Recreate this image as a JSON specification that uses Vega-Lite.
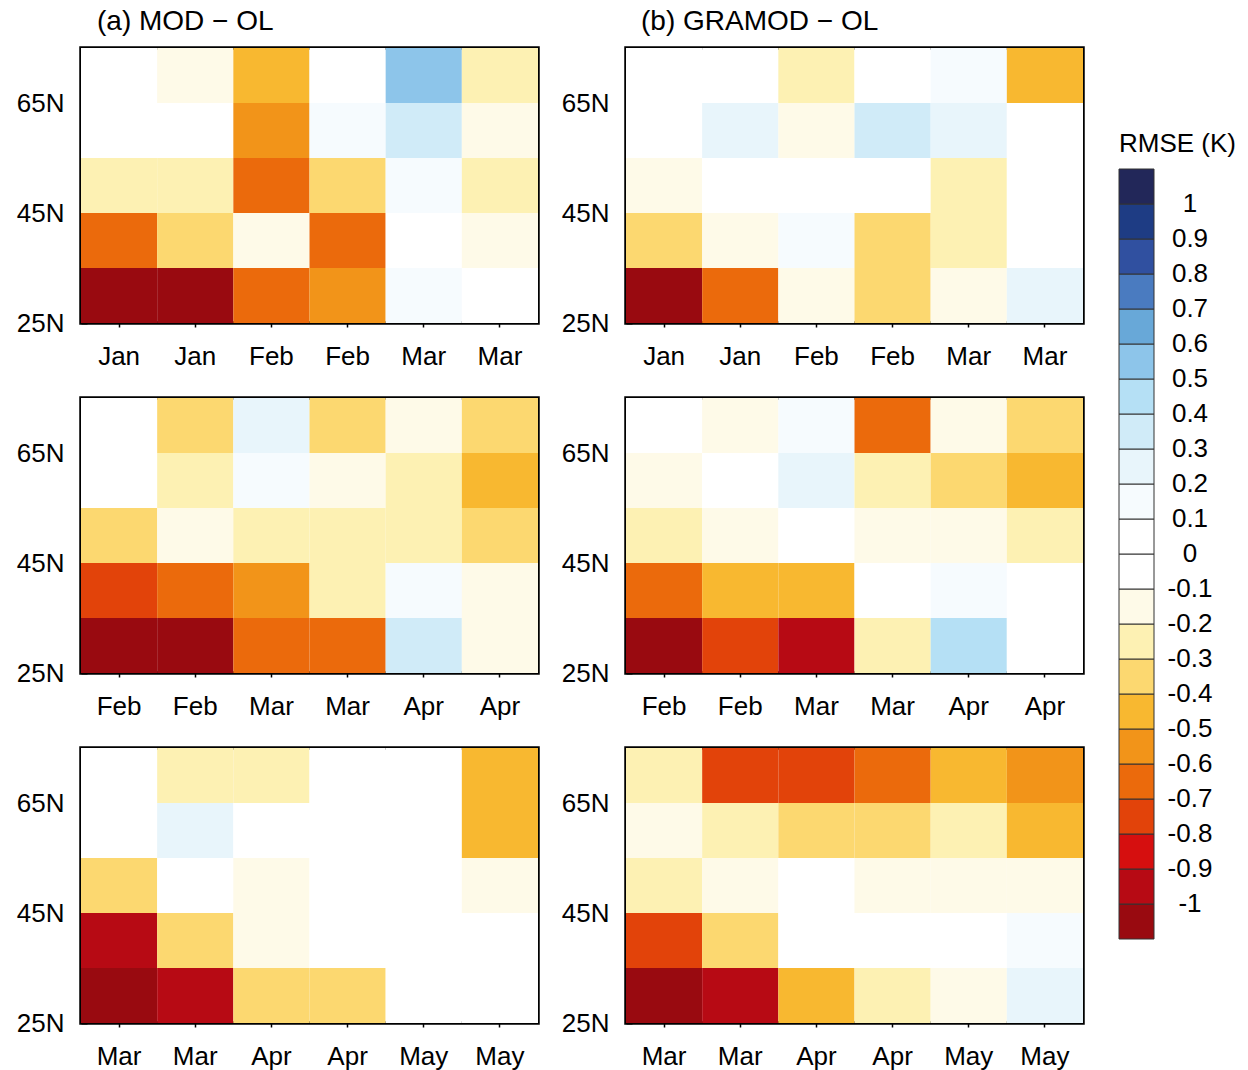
{
  "$schema": "https://vega.github.io/schema/vega-lite/v6.json",
  "background": "white",
  "padding": {"left": 14, "top": 6, "right": 5, "bottom": 5},
  "data": {"values": [
    {"p":"a1","c":"1 Jan","lat":65,"lat2":75,"v":0},{"p":"a1","c":"2 Jan","lat":65,"lat2":75,"v":-0.15},{"p":"a1","c":"3 Feb","lat":65,"lat2":75,"v":-0.45},{"p":"a1","c":"4 Feb","lat":65,"lat2":75,"v":0},{"p":"a1","c":"5 Mar","lat":65,"lat2":75,"v":0.55},{"p":"a1","c":"6 Mar","lat":65,"lat2":75,"v":-0.25},
    {"p":"a1","c":"1 Jan","lat":55,"lat2":65,"v":0},{"p":"a1","c":"2 Jan","lat":55,"lat2":65,"v":0},{"p":"a1","c":"3 Feb","lat":55,"lat2":65,"v":-0.55},{"p":"a1","c":"4 Feb","lat":55,"lat2":65,"v":0.15},{"p":"a1","c":"5 Mar","lat":55,"lat2":65,"v":0.35},{"p":"a1","c":"6 Mar","lat":55,"lat2":65,"v":-0.15},
    {"p":"a1","c":"1 Jan","lat":45,"lat2":55,"v":-0.25},{"p":"a1","c":"2 Jan","lat":45,"lat2":55,"v":-0.25},{"p":"a1","c":"3 Feb","lat":45,"lat2":55,"v":-0.65},{"p":"a1","c":"4 Feb","lat":45,"lat2":55,"v":-0.35},{"p":"a1","c":"5 Mar","lat":45,"lat2":55,"v":0.15},{"p":"a1","c":"6 Mar","lat":45,"lat2":55,"v":-0.25},
    {"p":"a1","c":"1 Jan","lat":35,"lat2":45,"v":-0.65},{"p":"a1","c":"2 Jan","lat":35,"lat2":45,"v":-0.35},{"p":"a1","c":"3 Feb","lat":35,"lat2":45,"v":-0.15},{"p":"a1","c":"4 Feb","lat":35,"lat2":45,"v":-0.65},{"p":"a1","c":"5 Mar","lat":35,"lat2":45,"v":0},{"p":"a1","c":"6 Mar","lat":35,"lat2":45,"v":-0.15},
    {"p":"a1","c":"1 Jan","lat":25,"lat2":35,"v":-1.05},{"p":"a1","c":"2 Jan","lat":25,"lat2":35,"v":-1.05},{"p":"a1","c":"3 Feb","lat":25,"lat2":35,"v":-0.65},{"p":"a1","c":"4 Feb","lat":25,"lat2":35,"v":-0.55},{"p":"a1","c":"5 Mar","lat":25,"lat2":35,"v":0.15},{"p":"a1","c":"6 Mar","lat":25,"lat2":35,"v":0},

    {"p":"b1","c":"1 Jan","lat":65,"lat2":75,"v":0},{"p":"b1","c":"2 Jan","lat":65,"lat2":75,"v":0},{"p":"b1","c":"3 Feb","lat":65,"lat2":75,"v":-0.25},{"p":"b1","c":"4 Feb","lat":65,"lat2":75,"v":0},{"p":"b1","c":"5 Mar","lat":65,"lat2":75,"v":0.15},{"p":"b1","c":"6 Mar","lat":65,"lat2":75,"v":-0.45},
    {"p":"b1","c":"1 Jan","lat":55,"lat2":65,"v":0},{"p":"b1","c":"2 Jan","lat":55,"lat2":65,"v":0.25},{"p":"b1","c":"3 Feb","lat":55,"lat2":65,"v":-0.15},{"p":"b1","c":"4 Feb","lat":55,"lat2":65,"v":0.35},{"p":"b1","c":"5 Mar","lat":55,"lat2":65,"v":0.25},{"p":"b1","c":"6 Mar","lat":55,"lat2":65,"v":0},
    {"p":"b1","c":"1 Jan","lat":45,"lat2":55,"v":-0.15},{"p":"b1","c":"2 Jan","lat":45,"lat2":55,"v":0},{"p":"b1","c":"3 Feb","lat":45,"lat2":55,"v":0},{"p":"b1","c":"4 Feb","lat":45,"lat2":55,"v":0},{"p":"b1","c":"5 Mar","lat":45,"lat2":55,"v":-0.25},{"p":"b1","c":"6 Mar","lat":45,"lat2":55,"v":0},
    {"p":"b1","c":"1 Jan","lat":35,"lat2":45,"v":-0.35},{"p":"b1","c":"2 Jan","lat":35,"lat2":45,"v":-0.15},{"p":"b1","c":"3 Feb","lat":35,"lat2":45,"v":0.15},{"p":"b1","c":"4 Feb","lat":35,"lat2":45,"v":-0.35},{"p":"b1","c":"5 Mar","lat":35,"lat2":45,"v":-0.25},{"p":"b1","c":"6 Mar","lat":35,"lat2":45,"v":0},
    {"p":"b1","c":"1 Jan","lat":25,"lat2":35,"v":-1.05},{"p":"b1","c":"2 Jan","lat":25,"lat2":35,"v":-0.65},{"p":"b1","c":"3 Feb","lat":25,"lat2":35,"v":-0.15},{"p":"b1","c":"4 Feb","lat":25,"lat2":35,"v":-0.35},{"p":"b1","c":"5 Mar","lat":25,"lat2":35,"v":-0.15},{"p":"b1","c":"6 Mar","lat":25,"lat2":35,"v":0.25},

    {"p":"a2","c":"1 Feb","lat":65,"lat2":75,"v":0},{"p":"a2","c":"2 Feb","lat":65,"lat2":75,"v":-0.35},{"p":"a2","c":"3 Mar","lat":65,"lat2":75,"v":0.25},{"p":"a2","c":"4 Mar","lat":65,"lat2":75,"v":-0.35},{"p":"a2","c":"5 Apr","lat":65,"lat2":75,"v":-0.15},{"p":"a2","c":"6 Apr","lat":65,"lat2":75,"v":-0.35},
    {"p":"a2","c":"1 Feb","lat":55,"lat2":65,"v":0},{"p":"a2","c":"2 Feb","lat":55,"lat2":65,"v":-0.25},{"p":"a2","c":"3 Mar","lat":55,"lat2":65,"v":0.15},{"p":"a2","c":"4 Mar","lat":55,"lat2":65,"v":-0.15},{"p":"a2","c":"5 Apr","lat":55,"lat2":65,"v":-0.25},{"p":"a2","c":"6 Apr","lat":55,"lat2":65,"v":-0.45},
    {"p":"a2","c":"1 Feb","lat":45,"lat2":55,"v":-0.35},{"p":"a2","c":"2 Feb","lat":45,"lat2":55,"v":-0.15},{"p":"a2","c":"3 Mar","lat":45,"lat2":55,"v":-0.25},{"p":"a2","c":"4 Mar","lat":45,"lat2":55,"v":-0.25},{"p":"a2","c":"5 Apr","lat":45,"lat2":55,"v":-0.25},{"p":"a2","c":"6 Apr","lat":45,"lat2":55,"v":-0.35},
    {"p":"a2","c":"1 Feb","lat":35,"lat2":45,"v":-0.75},{"p":"a2","c":"2 Feb","lat":35,"lat2":45,"v":-0.65},{"p":"a2","c":"3 Mar","lat":35,"lat2":45,"v":-0.55},{"p":"a2","c":"4 Mar","lat":35,"lat2":45,"v":-0.25},{"p":"a2","c":"5 Apr","lat":35,"lat2":45,"v":0.15},{"p":"a2","c":"6 Apr","lat":35,"lat2":45,"v":-0.15},
    {"p":"a2","c":"1 Feb","lat":25,"lat2":35,"v":-1.05},{"p":"a2","c":"2 Feb","lat":25,"lat2":35,"v":-1.05},{"p":"a2","c":"3 Mar","lat":25,"lat2":35,"v":-0.65},{"p":"a2","c":"4 Mar","lat":25,"lat2":35,"v":-0.65},{"p":"a2","c":"5 Apr","lat":25,"lat2":35,"v":0.35},{"p":"a2","c":"6 Apr","lat":25,"lat2":35,"v":-0.15},

    {"p":"b2","c":"1 Feb","lat":65,"lat2":75,"v":0},{"p":"b2","c":"2 Feb","lat":65,"lat2":75,"v":-0.15},{"p":"b2","c":"3 Mar","lat":65,"lat2":75,"v":0.15},{"p":"b2","c":"4 Mar","lat":65,"lat2":75,"v":-0.65},{"p":"b2","c":"5 Apr","lat":65,"lat2":75,"v":-0.15},{"p":"b2","c":"6 Apr","lat":65,"lat2":75,"v":-0.35},
    {"p":"b2","c":"1 Feb","lat":55,"lat2":65,"v":-0.15},{"p":"b2","c":"2 Feb","lat":55,"lat2":65,"v":0},{"p":"b2","c":"3 Mar","lat":55,"lat2":65,"v":0.25},{"p":"b2","c":"4 Mar","lat":55,"lat2":65,"v":-0.25},{"p":"b2","c":"5 Apr","lat":55,"lat2":65,"v":-0.35},{"p":"b2","c":"6 Apr","lat":55,"lat2":65,"v":-0.45},
    {"p":"b2","c":"1 Feb","lat":45,"lat2":55,"v":-0.25},{"p":"b2","c":"2 Feb","lat":45,"lat2":55,"v":-0.15},{"p":"b2","c":"3 Mar","lat":45,"lat2":55,"v":0},{"p":"b2","c":"4 Mar","lat":45,"lat2":55,"v":-0.15},{"p":"b2","c":"5 Apr","lat":45,"lat2":55,"v":-0.15},{"p":"b2","c":"6 Apr","lat":45,"lat2":55,"v":-0.25},
    {"p":"b2","c":"1 Feb","lat":35,"lat2":45,"v":-0.65},{"p":"b2","c":"2 Feb","lat":35,"lat2":45,"v":-0.45},{"p":"b2","c":"3 Mar","lat":35,"lat2":45,"v":-0.45},{"p":"b2","c":"4 Mar","lat":35,"lat2":45,"v":0},{"p":"b2","c":"5 Apr","lat":35,"lat2":45,"v":0.15},{"p":"b2","c":"6 Apr","lat":35,"lat2":45,"v":0},
    {"p":"b2","c":"1 Feb","lat":25,"lat2":35,"v":-1.05},{"p":"b2","c":"2 Feb","lat":25,"lat2":35,"v":-0.75},{"p":"b2","c":"3 Mar","lat":25,"lat2":35,"v":-0.95},{"p":"b2","c":"4 Mar","lat":25,"lat2":35,"v":-0.25},{"p":"b2","c":"5 Apr","lat":25,"lat2":35,"v":0.45},{"p":"b2","c":"6 Apr","lat":25,"lat2":35,"v":0},

    {"p":"a3","c":"1 Mar","lat":65,"lat2":75,"v":0},{"p":"a3","c":"2 Mar","lat":65,"lat2":75,"v":-0.25},{"p":"a3","c":"3 Apr","lat":65,"lat2":75,"v":-0.25},{"p":"a3","c":"4 Apr","lat":65,"lat2":75,"v":0},{"p":"a3","c":"5 May","lat":65,"lat2":75,"v":0},{"p":"a3","c":"6 May","lat":65,"lat2":75,"v":-0.45},
    {"p":"a3","c":"1 Mar","lat":55,"lat2":65,"v":0},{"p":"a3","c":"2 Mar","lat":55,"lat2":65,"v":0.25},{"p":"a3","c":"3 Apr","lat":55,"lat2":65,"v":0},{"p":"a3","c":"4 Apr","lat":55,"lat2":65,"v":0},{"p":"a3","c":"5 May","lat":55,"lat2":65,"v":0},{"p":"a3","c":"6 May","lat":55,"lat2":65,"v":-0.45},
    {"p":"a3","c":"1 Mar","lat":45,"lat2":55,"v":-0.35},{"p":"a3","c":"2 Mar","lat":45,"lat2":55,"v":0},{"p":"a3","c":"3 Apr","lat":45,"lat2":55,"v":-0.15},{"p":"a3","c":"4 Apr","lat":45,"lat2":55,"v":0},{"p":"a3","c":"5 May","lat":45,"lat2":55,"v":0},{"p":"a3","c":"6 May","lat":45,"lat2":55,"v":-0.15},
    {"p":"a3","c":"1 Mar","lat":35,"lat2":45,"v":-0.95},{"p":"a3","c":"2 Mar","lat":35,"lat2":45,"v":-0.35},{"p":"a3","c":"3 Apr","lat":35,"lat2":45,"v":-0.15},{"p":"a3","c":"4 Apr","lat":35,"lat2":45,"v":0},{"p":"a3","c":"5 May","lat":35,"lat2":45,"v":0},{"p":"a3","c":"6 May","lat":35,"lat2":45,"v":0},
    {"p":"a3","c":"1 Mar","lat":25,"lat2":35,"v":-1.05},{"p":"a3","c":"2 Mar","lat":25,"lat2":35,"v":-0.95},{"p":"a3","c":"3 Apr","lat":25,"lat2":35,"v":-0.35},{"p":"a3","c":"4 Apr","lat":25,"lat2":35,"v":-0.35},{"p":"a3","c":"5 May","lat":25,"lat2":35,"v":0},{"p":"a3","c":"6 May","lat":25,"lat2":35,"v":0},

    {"p":"b3","c":"1 Mar","lat":65,"lat2":75,"v":-0.25},{"p":"b3","c":"2 Mar","lat":65,"lat2":75,"v":-0.75},{"p":"b3","c":"3 Apr","lat":65,"lat2":75,"v":-0.75},{"p":"b3","c":"4 Apr","lat":65,"lat2":75,"v":-0.65},{"p":"b3","c":"5 May","lat":65,"lat2":75,"v":-0.45},{"p":"b3","c":"6 May","lat":65,"lat2":75,"v":-0.55},
    {"p":"b3","c":"1 Mar","lat":55,"lat2":65,"v":-0.15},{"p":"b3","c":"2 Mar","lat":55,"lat2":65,"v":-0.25},{"p":"b3","c":"3 Apr","lat":55,"lat2":65,"v":-0.35},{"p":"b3","c":"4 Apr","lat":55,"lat2":65,"v":-0.35},{"p":"b3","c":"5 May","lat":55,"lat2":65,"v":-0.25},{"p":"b3","c":"6 May","lat":55,"lat2":65,"v":-0.45},
    {"p":"b3","c":"1 Mar","lat":45,"lat2":55,"v":-0.25},{"p":"b3","c":"2 Mar","lat":45,"lat2":55,"v":-0.15},{"p":"b3","c":"3 Apr","lat":45,"lat2":55,"v":0},{"p":"b3","c":"4 Apr","lat":45,"lat2":55,"v":-0.15},{"p":"b3","c":"5 May","lat":45,"lat2":55,"v":-0.15},{"p":"b3","c":"6 May","lat":45,"lat2":55,"v":-0.15},
    {"p":"b3","c":"1 Mar","lat":35,"lat2":45,"v":-0.75},{"p":"b3","c":"2 Mar","lat":35,"lat2":45,"v":-0.35},{"p":"b3","c":"3 Apr","lat":35,"lat2":45,"v":0},{"p":"b3","c":"4 Apr","lat":35,"lat2":45,"v":0},{"p":"b3","c":"5 May","lat":35,"lat2":45,"v":0},{"p":"b3","c":"6 May","lat":35,"lat2":45,"v":0.15},
    {"p":"b3","c":"1 Mar","lat":25,"lat2":35,"v":-1.05},{"p":"b3","c":"2 Mar","lat":25,"lat2":35,"v":-0.95},{"p":"b3","c":"3 Apr","lat":25,"lat2":35,"v":-0.45},{"p":"b3","c":"4 Apr","lat":25,"lat2":35,"v":-0.25},{"p":"b3","c":"5 May","lat":25,"lat2":35,"v":-0.15},{"p":"b3","c":"6 May","lat":25,"lat2":35,"v":0.25}
  ]},
  "columns": 2,
  "bounds": "flush",
  "spacing": {"row": 75, "column": 88},
  "resolve": {"scale": {"color": "shared"}, "legend": {"color": "shared"}},
  "config": {
    "font": "Liberation Sans",
    "view": {"stroke": "black", "strokeWidth": 3.5},
    "axisX": {"labelFontSize": 26, "labelAngle": 0, "labelPadding": 16, "tickSize": 4, "tickColor": "black", "tickWidth": 1.5, "domain": false, "grid": false, "labelColor": "black", "title": null, "labelExpr": "slice(datum.value, 2)"},
    "axisY": {"labelFontSize": 26, "tickSize": -6, "labelPadding": 23, "tickColor": "black", "tickWidth": 2, "domain": false, "grid": false, "labelColor": "black", "title": null},
    "title": {"fontSize": 28, "fontWeight": "normal", "anchor": "start", "frame": "group", "offset": 12, "color": "black"}
  },
  "concat": [
    {"width": 457, "height": 275, "title": {"text": "(a) MOD − OL", "dx": 16},
     "transform": [{"filter": "datum.p == 'a1'"}],
     "mark": {"type": "rect"},
     "encoding": {
       "x": {"field": "c", "type": "ordinal", "scale": {"paddingInner": 0, "paddingOuter": 0}},
       "y": {"field": "lat", "type": "quantitative", "scale": {"domain": [25, 75], "nice": false, "zero": false}, "axis": {"values": [25, 45, 65], "labelExpr": "datum.value + 'N'"}},
       "y2": {"field": "lat2"},
       "color": {"field": "v", "type": "quantitative", "title": "RMSE (K)",
         "scale": {"type": "threshold", "domain": [-1,-0.9,-0.8,-0.7,-0.6,-0.5,-0.4,-0.3,-0.2,-0.1,0,0.1,0.2,0.3,0.4,0.5,0.6,0.7,0.8,0.9,1], "range": ["#990a10","#b70a14","#d60f0f","#e2430a","#eb6a0c","#f29419","#f8b830","#fcd870","#fdf1b3","#fefae8","#ffffff","#ffffff","#f6fbfe","#e8f5fb","#d0ebf8","#b5e0f5","#8dc5ea","#68a8d8","#4a7bc0","#3050a0","#1e3c84","#222759"]},
         "legend": {"type": "gradient", "direction": "vertical", "orient": "none", "legendX": 1038, "legendY": 83, "gradientLength": 770, "gradientThickness": 35, "gradientStrokeColor": "#333333", "gradientStrokeWidth": 1, "labelFontSize": 26, "labelOffset": 36, "labelOverlap": false, "labelColor": "black", "titleFontSize": 26, "titleFontWeight": "normal", "titlePadding": 12, "titleColor": "black", "labelExpr": "isFinite(datum.value) ? '' + datum.value : ''",
           "encode": {"labels": {"update": {"align": {"value": "center"}}}}}}
     }},
    {"width": 457, "height": 275, "title": {"text": "(b) GRAMOD − OL", "dx": 15},
     "transform": [{"filter": "datum.p == 'b1'"}],
     "mark": {"type": "rect"},
     "encoding": {
       "x": {"field": "c", "type": "ordinal", "scale": {"paddingInner": 0, "paddingOuter": 0}},
       "y": {"field": "lat", "type": "quantitative", "scale": {"domain": [25, 75], "nice": false, "zero": false}, "axis": {"values": [25, 45, 65], "labelExpr": "datum.value + 'N'"}},
       "y2": {"field": "lat2"},
       "color": {"field": "v", "type": "quantitative",
         "scale": {"type": "threshold", "domain": [-1,-0.9,-0.8,-0.7,-0.6,-0.5,-0.4,-0.3,-0.2,-0.1,0,0.1,0.2,0.3,0.4,0.5,0.6,0.7,0.8,0.9,1], "range": ["#990a10","#b70a14","#d60f0f","#e2430a","#eb6a0c","#f29419","#f8b830","#fcd870","#fdf1b3","#fefae8","#ffffff","#ffffff","#f6fbfe","#e8f5fb","#d0ebf8","#b5e0f5","#8dc5ea","#68a8d8","#4a7bc0","#3050a0","#1e3c84","#222759"]},
         "legend": null}
     }},
    {"width": 457, "height": 275,
     "transform": [{"filter": "datum.p == 'a2'"}],
     "mark": {"type": "rect"},
     "encoding": {
       "x": {"field": "c", "type": "ordinal", "scale": {"paddingInner": 0, "paddingOuter": 0}},
       "y": {"field": "lat", "type": "quantitative", "scale": {"domain": [25, 75], "nice": false, "zero": false}, "axis": {"values": [25, 45, 65], "labelExpr": "datum.value + 'N'"}},
       "y2": {"field": "lat2"},
       "color": {"field": "v", "type": "quantitative",
         "scale": {"type": "threshold", "domain": [-1,-0.9,-0.8,-0.7,-0.6,-0.5,-0.4,-0.3,-0.2,-0.1,0,0.1,0.2,0.3,0.4,0.5,0.6,0.7,0.8,0.9,1], "range": ["#990a10","#b70a14","#d60f0f","#e2430a","#eb6a0c","#f29419","#f8b830","#fcd870","#fdf1b3","#fefae8","#ffffff","#ffffff","#f6fbfe","#e8f5fb","#d0ebf8","#b5e0f5","#8dc5ea","#68a8d8","#4a7bc0","#3050a0","#1e3c84","#222759"]},
         "legend": null}
     }},
    {"width": 457, "height": 275,
     "transform": [{"filter": "datum.p == 'b2'"}],
     "mark": {"type": "rect"},
     "encoding": {
       "x": {"field": "c", "type": "ordinal", "scale": {"paddingInner": 0, "paddingOuter": 0}},
       "y": {"field": "lat", "type": "quantitative", "scale": {"domain": [25, 75], "nice": false, "zero": false}, "axis": {"values": [25, 45, 65], "labelExpr": "datum.value + 'N'"}},
       "y2": {"field": "lat2"},
       "color": {"field": "v", "type": "quantitative",
         "scale": {"type": "threshold", "domain": [-1,-0.9,-0.8,-0.7,-0.6,-0.5,-0.4,-0.3,-0.2,-0.1,0,0.1,0.2,0.3,0.4,0.5,0.6,0.7,0.8,0.9,1], "range": ["#990a10","#b70a14","#d60f0f","#e2430a","#eb6a0c","#f29419","#f8b830","#fcd870","#fdf1b3","#fefae8","#ffffff","#ffffff","#f6fbfe","#e8f5fb","#d0ebf8","#b5e0f5","#8dc5ea","#68a8d8","#4a7bc0","#3050a0","#1e3c84","#222759"]},
         "legend": null}
     }},
    {"width": 457, "height": 275,
     "transform": [{"filter": "datum.p == 'a3'"}],
     "mark": {"type": "rect"},
     "encoding": {
       "x": {"field": "c", "type": "ordinal", "scale": {"paddingInner": 0, "paddingOuter": 0}},
       "y": {"field": "lat", "type": "quantitative", "scale": {"domain": [25, 75], "nice": false, "zero": false}, "axis": {"values": [25, 45, 65], "labelExpr": "datum.value + 'N'"}},
       "y2": {"field": "lat2"},
       "color": {"field": "v", "type": "quantitative",
         "scale": {"type": "threshold", "domain": [-1,-0.9,-0.8,-0.7,-0.6,-0.5,-0.4,-0.3,-0.2,-0.1,0,0.1,0.2,0.3,0.4,0.5,0.6,0.7,0.8,0.9,1], "range": ["#990a10","#b70a14","#d60f0f","#e2430a","#eb6a0c","#f29419","#f8b830","#fcd870","#fdf1b3","#fefae8","#ffffff","#ffffff","#f6fbfe","#e8f5fb","#d0ebf8","#b5e0f5","#8dc5ea","#68a8d8","#4a7bc0","#3050a0","#1e3c84","#222759"]},
         "legend": null}
     }},
    {"width": 457, "height": 275,
     "transform": [{"filter": "datum.p == 'b3'"}],
     "mark": {"type": "rect"},
     "encoding": {
       "x": {"field": "c", "type": "ordinal", "scale": {"paddingInner": 0, "paddingOuter": 0}},
       "y": {"field": "lat", "type": "quantitative", "scale": {"domain": [25, 75], "nice": false, "zero": false}, "axis": {"values": [25, 45, 65], "labelExpr": "datum.value + 'N'"}},
       "y2": {"field": "lat2"},
       "color": {"field": "v", "type": "quantitative",
         "scale": {"type": "threshold", "domain": [-1,-0.9,-0.8,-0.7,-0.6,-0.5,-0.4,-0.3,-0.2,-0.1,0,0.1,0.2,0.3,0.4,0.5,0.6,0.7,0.8,0.9,1], "range": ["#990a10","#b70a14","#d60f0f","#e2430a","#eb6a0c","#f29419","#f8b830","#fcd870","#fdf1b3","#fefae8","#ffffff","#ffffff","#f6fbfe","#e8f5fb","#d0ebf8","#b5e0f5","#8dc5ea","#68a8d8","#4a7bc0","#3050a0","#1e3c84","#222759"]},
         "legend": null}
     }}
  ]
}
